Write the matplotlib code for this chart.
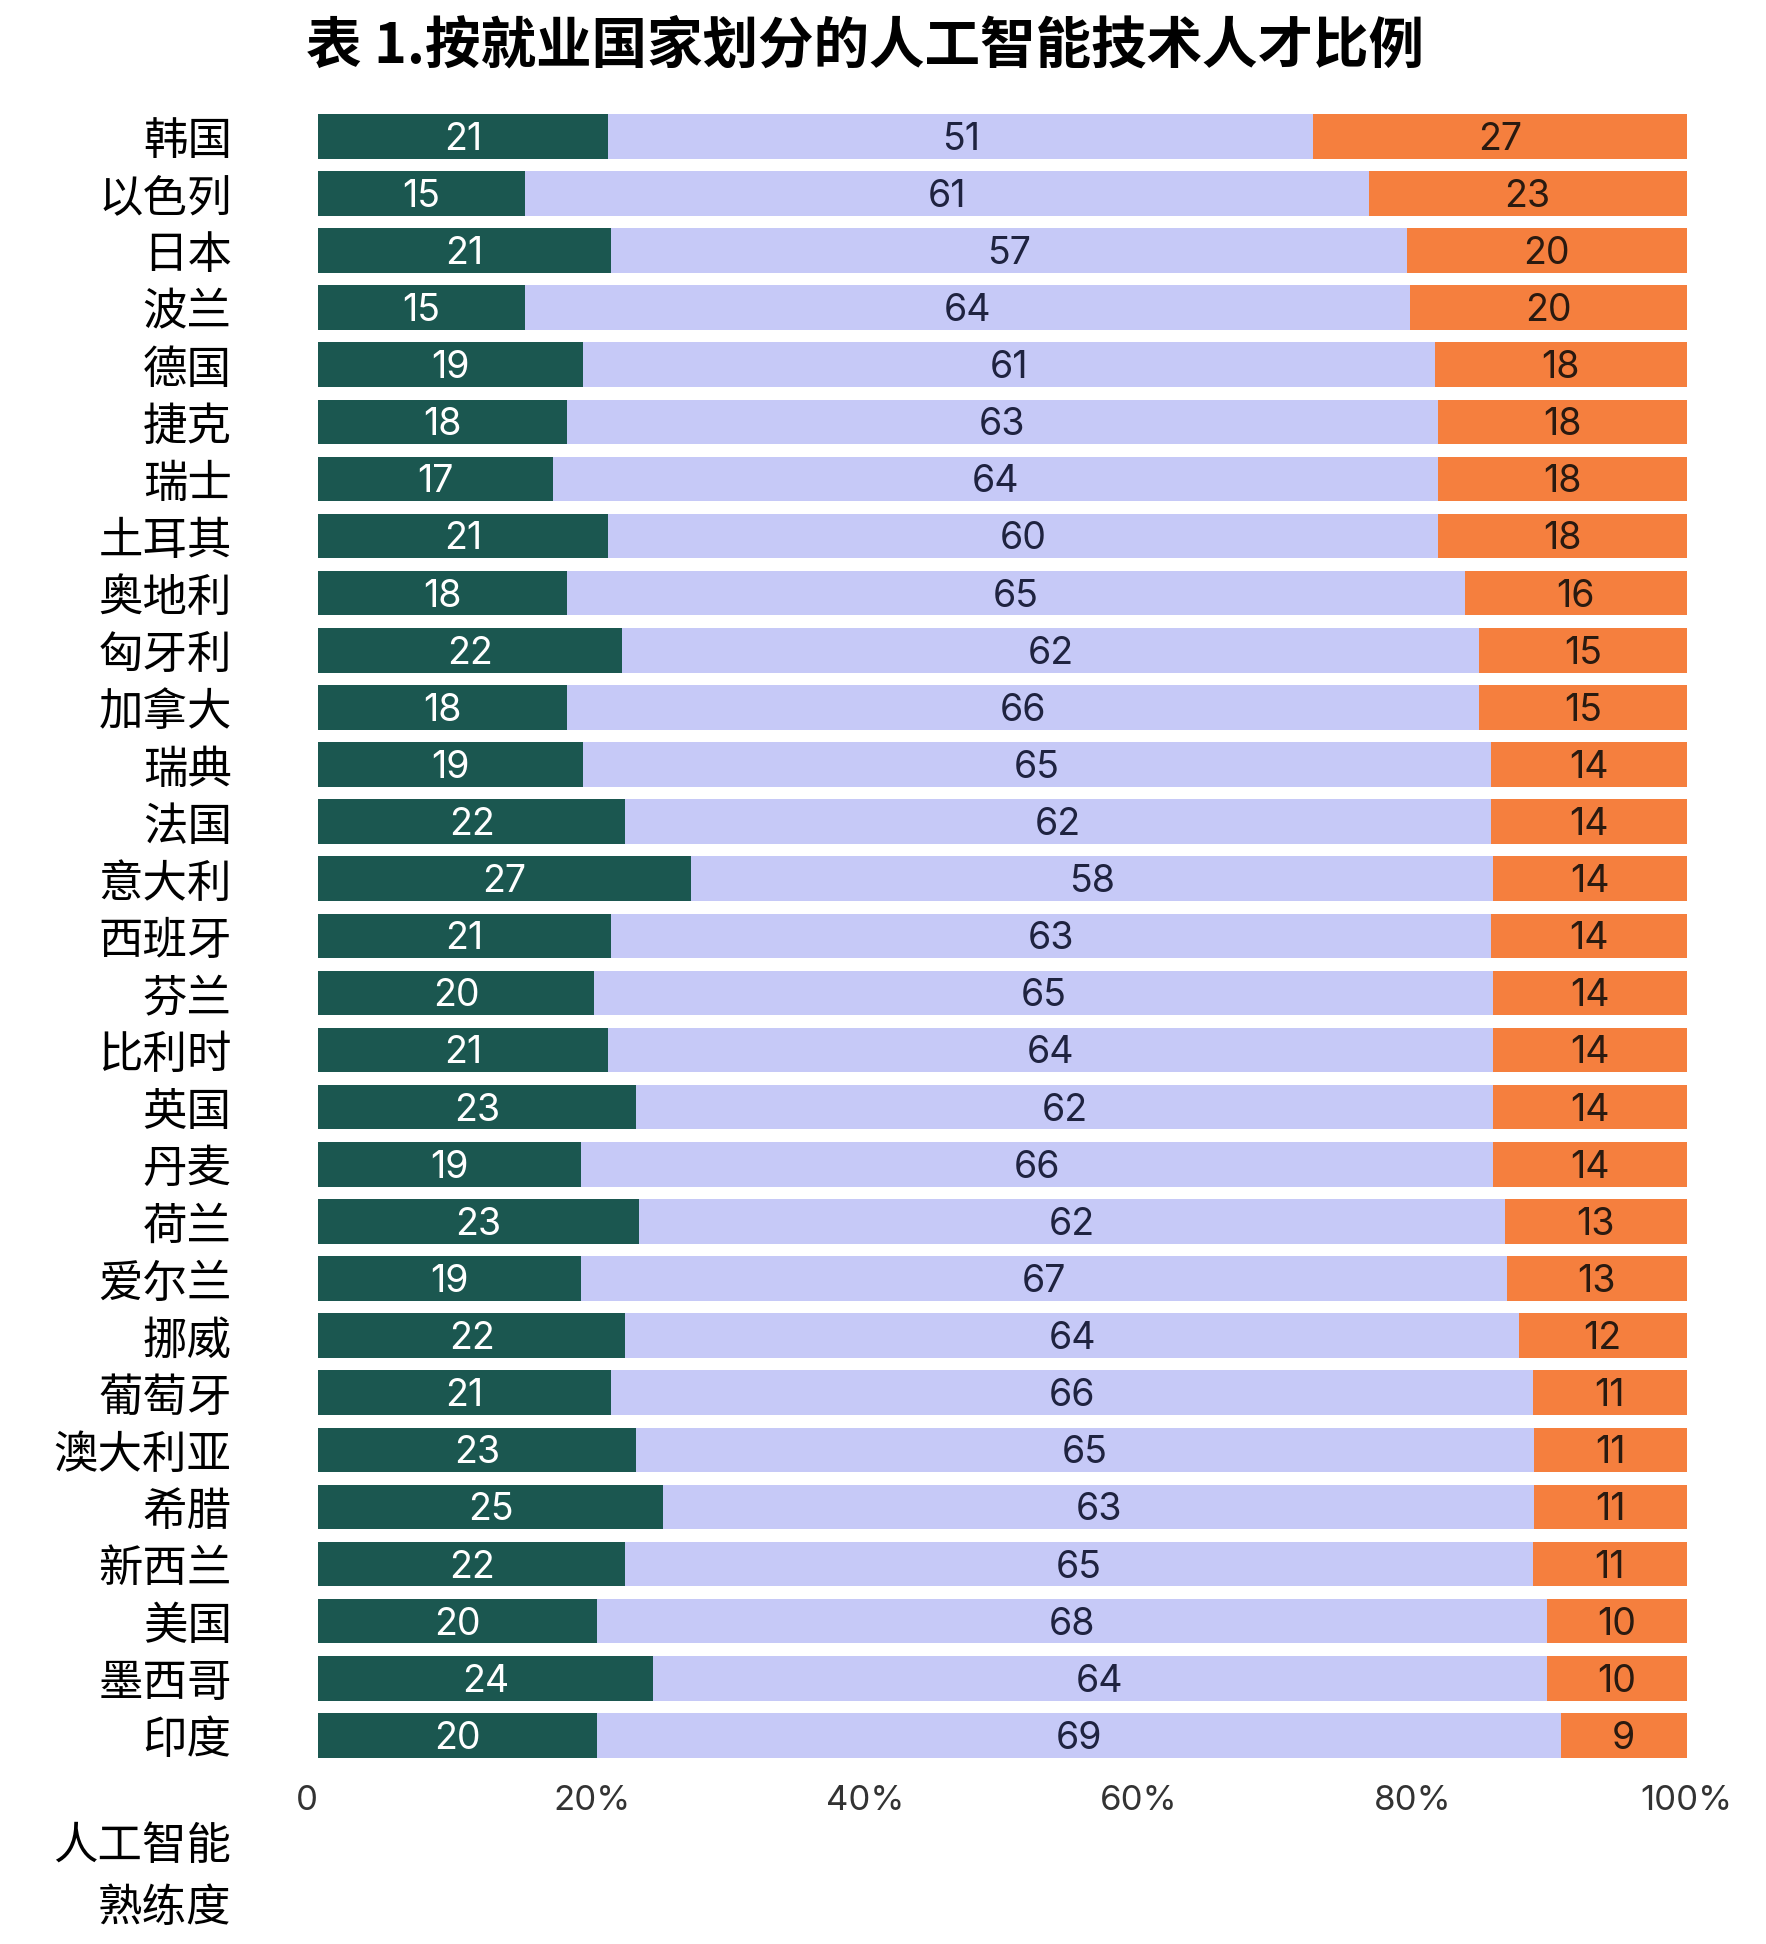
import numpy as np
import matplotlib
matplotlib.use("Agg")
import matplotlib.pyplot as plt

plt.rcParams['font.family'] = ['Noto Sans CJK SC', 'DejaVu Sans']

# data (percent, top to bottom)
countries = ["韩国", "以色列", "日本", "波兰", "德国", "捷克", "瑞士", "土耳其", "奥地利",
             "匈牙利", "加拿大", "瑞典", "法国", "意大利", "西班牙", "芬兰", "比利时", "英国",
             "丹麦", "荷兰", "爱尔兰", "挪威", "葡萄牙", "澳大利亚", "希腊", "新西兰", "美国",
             "墨西哥", "印度"]
low = [21, 15, 21, 15, 19, 18, 17, 21, 18, 22, 18, 19, 22, 27, 21, 20, 21, 23, 19, 23,
       19, 22, 21, 23, 25, 22, 20, 24, 20]
mid = [51, 61, 57, 64, 61, 63, 64, 60, 65, 62, 66, 65, 62, 58, 63, 65, 64, 62, 66, 62,
       67, 64, 66, 65, 63, 65, 68, 64, 69]
high = [27, 23, 20, 20, 18, 18, 18, 18, 16, 15, 15, 14, 14, 14, 14, 14, 14, 14, 14, 13,
        13, 12, 11, 11, 11, 11, 10, 10, 9]
xticks = [0, 20, 40, 60, 80, 100]
xticklabels = ["0", "20%", "40%", "60%", "80%", "100%"]

c_low = "#1b5750"
c_mid = "#c6c9f7"
c_high = "#f57f3e"

low_a = np.array(low, dtype=float)
mid_a = np.array(mid, dtype=float)
high_a = np.array(high, dtype=float)
tot = low_a + mid_a + high_a
# each bar is stretched to the full 100%
p_low = low_a / tot * 100
p_mid = mid_a / tot * 100
p_high = high_a / tot * 100

fig = plt.figure(figsize=(17.66, 19.44), dpi=100)
ax = fig.add_axes([0.18, 0.0926, 0.775, 0.852])

y = np.arange(len(countries))
h = 0.78
ax.barh(y, p_low, height=h, color=c_low)
ax.barh(y, p_mid, left=p_low, height=h, color=c_mid)
ax.barh(y, p_high, left=p_low + p_mid, height=h, color=c_high)

num_font = ['Inter', 'DejaVu Sans']
ty = y + 0.06  # nudge labels down a little to sit in the middle of the bar
for i in range(len(countries)):
    ax.text(p_low[i] / 2, ty[i], str(low[i]), ha='center', va='center',
            color='white', fontsize=27, family=num_font)
    ax.text(p_low[i] + p_mid[i] / 2, ty[i], str(mid[i]), ha='center', va='center',
            color='#1f2340', fontsize=27, family=num_font)
    ax.text(p_low[i] + p_mid[i] + p_high[i] / 2, ty[i], str(high[i]), ha='center',
            va='center', color='#2a1a10', fontsize=27, family=num_font)

ax.set_xlim(0, 100)
ax.set_ylim(len(countries) - 0.5, -0.5)
ax.set_yticks(y)
ax.set_yticklabels(countries, fontsize=32)
ax.set_xticks(xticks)
ax.set_xticklabels(xticklabels, fontsize=25, color='#333333', family=num_font)
for sp in ax.spines.values():
    sp.set_visible(False)
ax.tick_params(axis='both', length=0)
ax.tick_params(axis='y', pad=62)
ax.tick_params(axis='x', pad=15)
ax.get_xticklabels()[0].set_ha('right')

fig.text(0.131, 0.0345, "人工智能\n熟练度", ha='right', va='center', fontsize=32,
         linespacing=1.45, multialignment='right')
fig.text(0.49, 0.976, "表 1.按就业国家划分的人工智能技术人才比例", ha='center', va='center',
         fontsize=40, fontweight='bold')

fig.savefig("out.png", dpi=100, facecolor='white')
